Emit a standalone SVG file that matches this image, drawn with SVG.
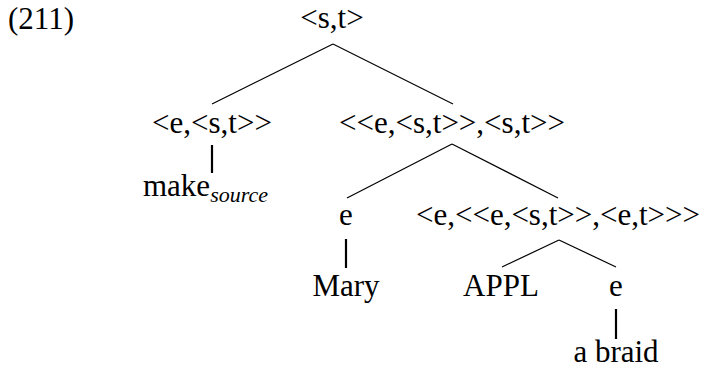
<svg xmlns="http://www.w3.org/2000/svg" width="705" height="371" viewBox="0 0 705 371">
<style>
.c{text-anchor:middle}
.sub{font-style:italic;font-size:22px}
.e{stroke:#000;stroke-width:1.2;fill:none}
.v{stroke:#000;stroke-width:2.2;fill:none}
</style>
<rect width="705" height="371" fill="#fff"/>
<g font-family="Liberation Serif, DejaVu Serif, serif" font-size="31" fill="#000">
<text x="8" y="29">(211)</text>
<g id="edges">
<line class="e" x1="333" y1="44" x2="212" y2="104"/>
<line class="e" x1="333" y1="44" x2="453" y2="104"/>
<line class="v" x1="212" y1="145" x2="212" y2="173"/>
<line class="e" x1="452" y1="144" x2="347" y2="198"/>
<line class="e" x1="452" y1="144" x2="558" y2="198"/>
<line class="v" x1="346" y1="239" x2="346" y2="268"/>
<line class="e" x1="559" y1="240" x2="502" y2="267"/>
<line class="e" x1="559" y1="240" x2="616" y2="267"/>
<line class="v" x1="616" y1="309" x2="616" y2="339"/>
</g>
<g id="n-root"><text class="c" x="332" y="28">&lt;s,t&gt;</text></g>
<g id="n-est"><text class="c" x="212" y="133">&lt;e,&lt;s,t&gt;&gt;</text></g>
<g id="n-make"><text x="143" y="196">make<tspan class="sub" dy="6">source</tspan></text></g>
<g id="n-right"><text class="c" x="452" y="133">&lt;&lt;e,&lt;s,t&gt;&gt;,&lt;s,t&gt;&gt;</text></g>
<g id="n-e1"><text class="c" x="346" y="225">e</text></g>
<g id="n-mary"><text class="c" x="346" y="296">Mary</text></g>
<g id="n-appl-phrase"><text class="c" x="558" y="225">&lt;e,&lt;&lt;e,&lt;s,t&gt;&gt;,&lt;e,t&gt;&gt;&gt;</text></g>
<g id="n-appl"><text class="c" x="501" y="296">APPL</text></g>
<g id="n-e2"><text class="c" x="616" y="296">e</text></g>
<g id="n-braid"><text class="c" x="616" y="362">a braid</text></g>
</g>
</svg>
